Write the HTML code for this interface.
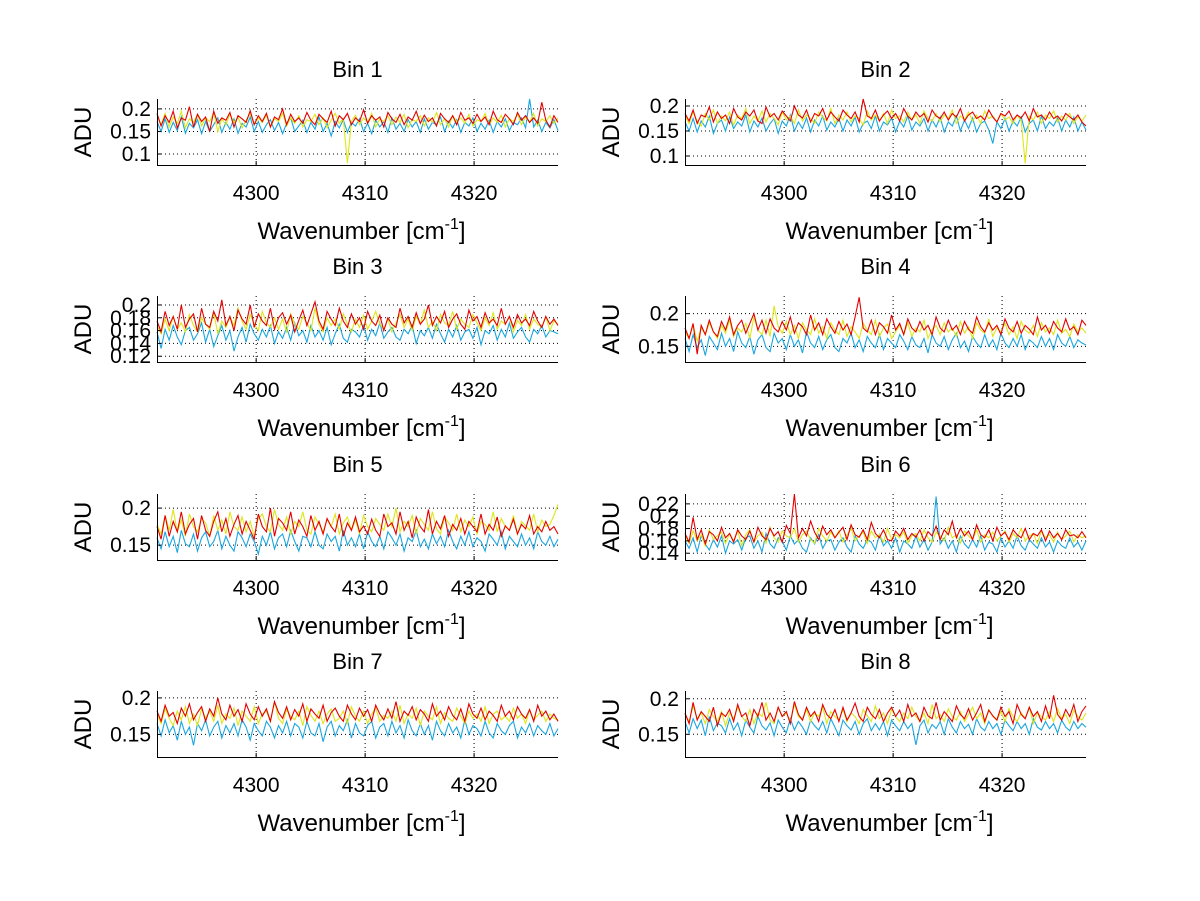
<!DOCTYPE html>
<html><head><meta charset="utf-8">
<style>
html,body{margin:0;padding:0;background:#fff;}
svg{display:block;font-family:"Liberation Sans",Arial,sans-serif;}
</style></head>
<body>
<svg id="fig" width="1200" height="901" viewBox="0 0 1200 901"></svg>
<script>
// x tick values (cm^-1)
const xTicks = [4300, 4310, 4320];
const xRange = [4290.9, 4327.7];
// per-panel y ranges and tick labels (ADU)
const bin1Y = [0.0756, 0.222], bin1Ticks = [0.1, 0.15, 0.2];
const bin2Y = [0.082, 0.214], bin2Ticks = [0.1, 0.15, 0.2];
const bin3Y = [0.111, 0.214], bin3Ticks = [0.12, 0.14, 0.16, 0.18, 0.2];
const bin4Y = [0.126, 0.227], bin4Ticks = [0.15, 0.2];
const bin5Y = [0.130, 0.219], bin5Ticks = [0.15, 0.2];
const bin6Y = [0.129, 0.236], bin6Ticks = [0.14, 0.16, 0.18, 0.2, 0.22];
const bin7Y = [0.119, 0.2095], bin7Ticks = [0.15, 0.2];
const bin8Y = [0.118, 0.211], bin8Ticks = [0.15, 0.2];

// series values in 1e-3 ADU, evenly spaced across the wavenumber range
const bin1Cyan = [172,150,178,148,170,152,182,146,168,158,176,145,172,150,165,180,148,170,155,178,146,168,160,182,150,172,148,165,176,152,170,145,168,180,150,162,175,148,170,155,182,150,168,140,172,158,176,148,170,162,178,150,168,145,175,160,172,148,180,155,168,150,176,160,172,148,178,155,170,165,182,150,172,158,176,148,170,162,180,150,168,155,175,148,172,160,178,152,170,165,180,158,222,160,175,150,170,158,176,152];
const bin1Yellow = [185,165,190,160,182,168,195,158,178,170,188,162,180,172,192,150,178,165,188,170,182,158,175,190,165,180,170,186,160,178,172,190,162,180,168,185,160,176,172,188,165,180,158,175,190,168,178,80,172,186,165,180,170,190,160,178,172,185,165,182,170,188,158,176,172,185,162,180,170,192,165,178,160,185,172,180,168,188,162,176,172,190,165,180,170,186,160,178,172,188,165,182,170,190,162,178,172,185,168,180];
const bin1Red = [190,162,185,170,195,158,180,175,205,160,188,172,182,150,195,168,180,175,192,160,185,178,170,196,165,185,172,190,160,182,176,200,165,188,172,180,168,192,175,165,188,178,170,195,162,185,176,190,165,180,172,198,168,185,175,182,160,192,178,170,188,165,182,175,195,168,186,172,180,162,190,178,170,185,165,192,175,180,168,188,172,182,165,195,176,170,188,178,165,192,175,185,170,180,168,215,175,160,185,170];
const bin2Cyan = [168,150,175,148,170,158,180,145,165,172,150,178,155,168,160,182,148,170,158,176,150,165,175,145,170,160,182,150,168,155,176,148,172,160,180,152,168,158,175,150,172,160,178,148,165,170,155,180,150,168,162,176,148,170,158,180,152,168,160,175,150,172,158,178,148,168,160,180,150,172,155,176,148,165,170,152,125,168,155,175,150,170,160,178,148,165,172,150,180,155,168,160,176,150,172,158,178,150,168,152];
const bin2Yellow = [180,165,188,170,160,185,172,192,165,180,170,188,162,182,175,195,165,180,170,190,168,185,175,162,188,172,180,165,192,170,182,175,165,188,178,170,195,165,182,172,188,168,180,175,162,190,172,182,170,185,165,192,175,180,168,188,172,182,165,190,175,170,185,168,182,175,192,165,180,172,188,170,182,165,190,175,180,168,185,172,178,165,182,170,85,180,172,188,165,182,175,190,168,180,172,185,165,178,170,182];
const bin2Red = [185,170,192,165,182,178,198,168,188,175,182,165,195,178,172,188,180,192,170,165,198,178,185,172,190,180,170,200,182,176,192,168,185,180,195,172,188,178,170,192,182,175,188,168,215,180,175,192,170,182,190,175,185,170,195,180,172,188,178,185,168,192,180,175,188,172,185,178,195,170,182,188,175,180,172,192,178,168,185,180,190,172,182,176,188,170,195,178,182,172,188,175,180,170,185,178,172,182,168,160];
const bin3Cyan = [158,132,162,145,168,150,138,160,165,145,155,172,142,162,135,152,168,145,160,128,150,165,142,170,155,145,162,150,168,140,158,148,165,145,172,152,160,142,168,150,160,145,165,138,155,170,148,142,162,158,150,168,145,162,152,172,148,158,165,150,145,162,155,168,140,160,152,165,148,170,155,142,162,150,168,145,158,162,148,165,138,160,155,168,145,162,150,172,148,158,165,150,142,162,155,168,150,160,158,155];
const bin3Yellow = [168,155,178,160,182,162,172,158,185,168,158,180,170,162,188,155,175,165,182,168,195,175,162,185,170,160,190,172,165,180,162,178,158,186,170,162,182,172,160,195,170,158,180,168,178,162,186,170,158,178,165,184,162,175,190,170,162,178,158,172,185,165,178,160,182,170,192,165,175,160,185,172,168,190,162,178,170,165,185,172,160,180,168,188,162,175,170,182,158,176,168,185,162,178,170,165,182,160,175,170];
const bin3Red = [175,158,190,168,182,162,200,165,178,186,158,195,170,165,190,175,208,168,182,160,192,178,170,200,165,186,175,168,195,162,180,188,170,184,158,176,192,168,186,205,175,162,190,178,168,195,175,165,186,170,180,162,190,175,168,184,160,180,170,165,195,172,182,165,188,170,178,200,168,182,172,190,165,178,186,170,162,192,175,182,165,188,172,178,168,195,170,182,165,185,172,178,168,190,175,165,182,170,178,168];
const bin4Cyan = [162,142,168,148,160,136,165,155,145,170,150,162,142,172,155,148,165,138,160,168,148,142,170,155,162,145,168,150,160,140,172,155,148,165,145,160,168,148,142,162,155,170,148,160,142,165,155,148,168,145,162,155,148,168,158,145,165,152,148,162,140,168,155,150,165,145,160,170,148,158,142,165,155,148,168,150,160,145,170,155,148,162,150,168,145,160,155,148,165,150,162,145,168,155,150,165,148,160,155,152];
const bin4Yellow = [172,162,182,158,178,168,186,172,162,182,170,190,165,178,172,185,162,195,175,168,190,165,212,180,170,188,168,182,162,186,175,168,192,170,180,162,186,175,168,190,165,180,172,162,185,175,168,190,165,178,184,162,172,182,168,186,165,178,172,190,162,176,182,168,186,172,178,165,188,170,180,162,186,175,170,192,165,178,172,185,168,180,162,188,175,170,182,165,186,172,178,168,190,170,176,165,184,172,178,170];
const bin4Red = [178,162,185,138,182,168,190,172,165,188,175,195,168,182,190,170,185,200,175,190,170,192,178,172,188,175,195,170,186,180,168,198,175,186,168,192,180,170,188,175,184,168,195,225,178,172,190,168,186,180,170,198,175,185,168,192,178,172,188,175,182,168,195,178,172,190,175,182,168,188,176,170,195,180,172,186,175,182,168,192,178,172,188,170,182,176,168,195,175,182,170,188,178,172,192,175,180,168,190,182];
const bin5Cyan = [160,145,168,148,162,140,170,152,148,165,142,160,168,148,155,170,145,162,150,142,168,160,148,165,155,138,162,150,168,145,160,165,148,170,155,142,162,160,148,168,150,145,165,155,162,142,170,150,160,148,165,145,168,155,148,162,145,168,160,150,165,142,160,155,170,148,158,145,165,152,162,148,170,155,145,162,150,168,148,160,155,142,165,158,150,168,145,162,155,148,165,150,160,145,168,155,150,162,148,158];
const bin5Yellow = [178,165,190,170,198,168,184,162,192,175,168,186,180,162,190,170,184,165,195,175,170,188,168,182,162,186,192,175,168,198,178,170,188,165,182,175,195,170,165,188,178,168,185,175,192,165,180,188,170,184,165,190,175,168,186,178,170,192,175,200,168,182,175,190,165,186,178,170,195,172,165,188,180,170,192,168,184,175,188,165,182,178,170,195,168,186,175,170,190,165,182,176,170,192,168,184,175,178,190,205];
const bin5Red = [175,158,190,162,182,168,195,165,178,186,158,190,170,162,182,195,168,186,162,178,190,165,182,170,158,192,175,168,200,162,186,180,170,195,165,184,175,162,190,170,182,165,186,175,168,192,162,180,170,188,168,176,165,185,170,162,192,175,180,165,195,170,182,160,188,175,168,198,165,182,172,190,162,178,170,186,165,182,175,168,192,165,178,170,188,162,176,170,185,165,178,172,190,165,175,168,182,170,175,165];
const bin6Cyan = [160,148,165,142,168,155,145,162,150,168,140,160,155,162,145,165,168,148,160,142,172,155,148,165,160,145,168,155,162,148,142,165,155,170,148,160,162,145,158,165,150,142,168,155,148,162,158,145,170,152,160,148,165,142,160,155,148,168,150,162,145,158,232,155,165,148,160,142,168,155,148,162,150,168,145,158,155,142,165,150,160,148,168,152,145,162,155,148,165,150,158,142,160,152,148,165,150,158,145,160];
const bin6Yellow = [168,156,176,160,170,152,178,162,168,174,156,172,160,176,152,170,178,158,168,174,156,182,165,158,176,168,165,180,158,170,176,162,156,180,168,160,174,165,176,158,170,180,160,168,174,156,176,165,170,158,180,162,170,165,174,156,168,172,160,178,165,158,174,168,160,182,165,170,156,176,168,162,178,158,170,165,174,160,168,176,158,172,165,180,160,168,172,156,176,165,170,158,174,162,168,176,158,170,165,168];
const bin6Red = [172,158,198,162,178,155,175,170,160,182,165,172,158,178,168,162,176,158,182,168,162,180,168,175,158,185,172,236,165,180,168,192,174,162,184,170,178,165,174,182,162,186,170,166,178,162,190,172,165,178,162,160,176,168,180,162,172,166,178,160,175,168,184,162,178,170,192,165,180,168,176,162,186,170,165,178,160,182,168,174,162,178,170,165,180,162,172,168,178,160,176,165,172,162,178,168,170,165,175,165];
const bin7Cyan = [165,148,170,152,162,142,168,150,160,135,165,155,170,148,160,168,145,162,152,165,148,170,160,142,165,155,148,168,160,145,162,152,168,148,165,160,145,168,152,148,165,140,160,168,148,162,155,170,145,165,152,148,162,168,145,160,165,148,168,152,162,145,170,155,148,165,150,162,142,168,155,148,165,152,160,145,170,150,162,158,148,168,152,145,165,155,150,162,168,145,160,152,165,148,162,155,150,165,148,158];
const bin7Yellow = [178,165,185,172,162,182,170,188,165,178,162,185,172,182,168,190,165,178,172,186,162,182,175,168,188,165,178,182,168,195,172,165,184,175,170,182,162,188,176,168,182,165,178,185,168,172,182,165,188,175,168,182,165,178,186,168,176,172,182,168,190,165,178,172,186,162,182,175,170,188,165,180,172,168,186,175,165,182,172,178,168,188,165,178,182,170,175,168,186,172,178,165,184,170,176,182,168,178,172,170];
const bin7Red = [182,168,190,175,180,165,186,175,192,170,180,188,168,185,175,200,178,170,190,175,184,168,192,178,170,188,175,185,168,195,180,172,188,170,184,175,192,168,185,178,172,190,168,180,186,175,168,190,178,170,186,175,184,168,190,178,170,185,172,195,168,182,176,188,170,184,178,168,192,175,182,170,188,176,170,185,168,192,178,172,186,170,182,176,168,190,175,182,170,188,178,172,184,168,190,175,182,170,178,168];
const bin8Cyan = [168,152,172,158,170,148,175,155,166,162,152,172,156,166,148,170,160,152,175,162,156,166,148,170,160,152,172,156,168,160,150,170,162,156,168,152,172,160,148,170,162,156,168,150,165,172,155,165,156,168,148,170,162,155,168,158,165,135,162,170,152,164,158,168,150,172,160,152,168,158,164,150,172,160,155,168,158,165,150,170,162,155,168,158,165,150,172,160,156,168,158,165,152,170,160,155,168,158,165,160];
const bin8Yellow = [178,168,190,172,180,165,185,175,168,182,162,180,172,188,175,168,185,165,180,175,195,170,165,188,175,180,168,192,175,170,185,168,180,175,188,165,182,175,170,185,168,180,175,165,185,176,168,190,172,180,165,185,175,168,180,172,188,175,168,180,165,192,172,178,168,186,175,170,182,168,178,188,172,180,165,185,175,170,182,168,186,175,168,180,172,188,165,180,175,170,182,168,186,172,178,165,184,175,170,180];
const bin8Red = [180,165,195,170,182,175,168,188,162,180,175,185,168,192,175,180,162,185,175,195,170,180,168,188,175,182,165,196,178,170,188,175,182,168,192,178,172,185,168,188,170,180,194,175,168,188,178,172,185,168,180,188,175,184,168,192,175,180,168,188,176,172,195,170,182,175,168,190,178,172,186,170,180,192,168,184,176,170,188,175,182,165,192,178,172,188,175,182,168,190,172,205,178,170,185,175,192,168,182,190];

const panels = [
  {title:"Bin 1", x0:157, y0:99,  yr:bin1Y, yt:bin1Ticks, series:[bin1Cyan,bin1Yellow,bin1Red]},
  {title:"Bin 2", x0:685, y0:99,  yr:bin2Y, yt:bin2Ticks, series:[bin2Cyan,bin2Yellow,bin2Red]},
  {title:"Bin 3", x0:157, y0:296, yr:bin3Y, yt:bin3Ticks, series:[bin3Cyan,bin3Yellow,bin3Red]},
  {title:"Bin 4", x0:685, y0:296, yr:bin4Y, yt:bin4Ticks, series:[bin4Cyan,bin4Yellow,bin4Red]},
  {title:"Bin 5", x0:157, y0:494, yr:bin5Y, yt:bin5Ticks, series:[bin5Cyan,bin5Yellow,bin5Red]},
  {title:"Bin 6", x0:685, y0:494, yr:bin6Y, yt:bin6Ticks, series:[bin6Cyan,bin6Yellow,bin6Red]},
  {title:"Bin 7", x0:157, y0:691, yr:bin7Y, yt:bin7Ticks, series:[bin7Cyan,bin7Yellow,bin7Red]},
  {title:"Bin 8", x0:685, y0:691, yr:bin8Y, yt:bin8Ticks, series:[bin8Cyan,bin8Yellow,bin8Red]}
];
const colors = ["#1aa6e0","#dde61a","#e40000"];
const seriesNames = ["cyan","yellow","red"];
const W = 401, H = 66;
const NS = "http://www.w3.org/2000/svg";
const svg = document.getElementById("fig");
function mk(tag, attrs, parent){
  const e = document.createElementNS(NS, tag);
  for (const k in attrs) e.setAttribute(k, attrs[k]);
  (parent||svg).appendChild(e);
  return e;
}
panels.forEach((p, pi) => {
  const g = mk("g", {});
  
  
  const sx = v => p.x0 + (v - xRange[0]) / (xRange[1] - xRange[0]) * W;
  const sy = v => p.y0 + H - (v - p.yr[0]) / (p.yr[1] - p.yr[0]) * H;
  xTicks.forEach(t => {
    const l = mk("line", {x1:sx(t), x2:sx(t), y1:p.y0, y2:p.y0+H, stroke:"#000", "stroke-width":1, "stroke-dasharray":"1,3"}, g);
    
    
  });
  p.yt.forEach(t => {
    const l = mk("line", {x1:p.x0, x2:p.x0+W, y1:sy(t), y2:sy(t), stroke:"#000", "stroke-width":1, "stroke-dasharray":"1,3"}, g);
    
    
  });
  p.series.forEach((arr, si) => {
    const n = arr.length;
    const pts = arr.map((v, i) => {
      const xv = xRange[0] + i * (xRange[1] - xRange[0]) / (n - 1);
      let y = sy(v / 1000);
      y = Math.max(p.y0, Math.min(p.y0 + H, y));
      return sx(xv).toFixed(1) + "," + y.toFixed(1);
    }).join(" ");
    const pl = mk("polyline", {points:pts, fill:"none", stroke:colors[si], "stroke-width":1.1}, g);
    
    
  });
  const ax = mk("path", {d:`M${p.x0+0.5},${p.y0} V${p.y0+H+0.5} H${p.x0+W}`, stroke:"#000", "stroke-width":1, fill:"none"}, g);
  
  
  xTicks.forEach(t => {
    const tk = mk("line", {x1:sx(t), x2:sx(t), y1:p.y0+H, y2:p.y0+H-4, stroke:"#000"}, g);
    
    
    const tx = mk("text", {x:sx(t), y:p.y0+H+35, "text-anchor":"middle", "font-size":21, fill:"#000"}, g);
    tx.textContent = String(t);
    
    
  });
  p.yt.forEach(t => {
    const tk = mk("line", {x1:p.x0, x2:p.x0+4, y1:sy(t), y2:sy(t), stroke:"#000"}, g);
    
    
    const tx = mk("text", {x:p.x0-6, y:sy(t)+7, "text-anchor":"end", "font-size":21, fill:"#000"}, g);
    tx.textContent = String(t);
    
    
  });
  const tt = mk("text", {x:p.x0+W/2, y:p.y0-22, "text-anchor":"middle", "font-size":22, fill:"#000"}, g);
  tt.textContent = p.title;
  
  
  const yl = mk("text", {x:0, y:0, "text-anchor":"middle", "font-size":24, fill:"#000", transform:`translate(${p.x0-66},${p.y0+H/2}) rotate(-90)`}, g);
  yl.textContent = "ADU";
  
  
  const xl = mk("text", {x:p.x0+W/2+4, y:p.y0+H+74, "text-anchor":"middle", "font-size":24, fill:"#000"}, g);
  
  
  const t1 = mk("tspan", {}, xl); t1.textContent = "Wavenumber [cm";
  const t2 = mk("tspan", {dy:-10, "font-size":16}, xl); t2.textContent = "-1";
  const t3 = mk("tspan", {dy:10}, xl); t3.textContent = "]";
});
</script>
</body></html>
